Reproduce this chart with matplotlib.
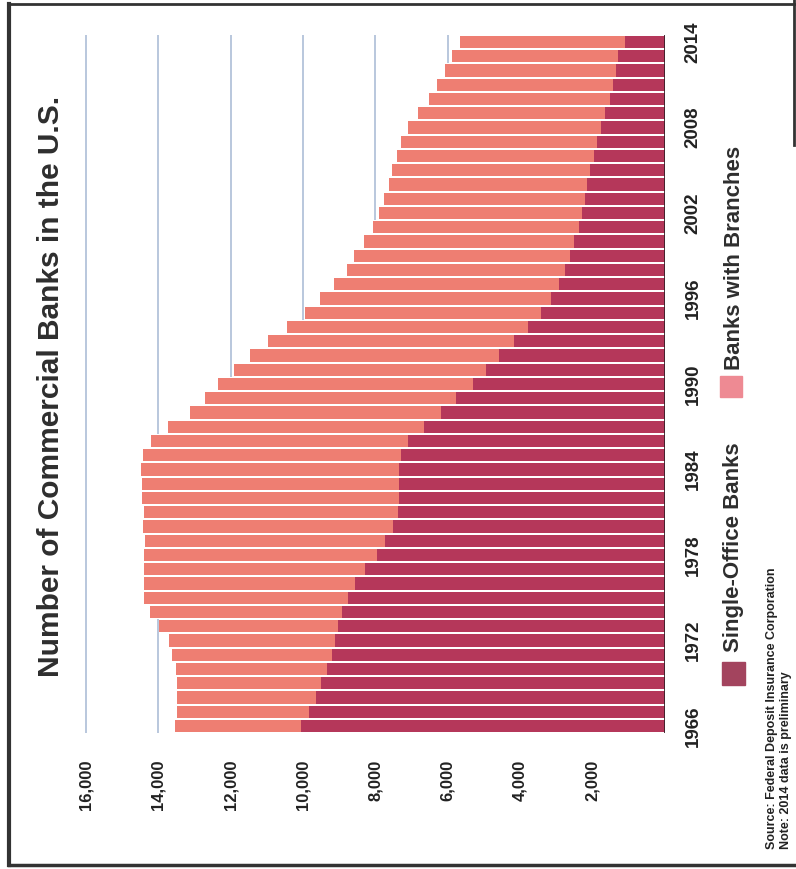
import numpy as np
import matplotlib
matplotlib.use("Agg")
import matplotlib.pyplot as plt
from matplotlib.patches import Rectangle
from matplotlib.lines import Line2D

plt.rcParams["font.family"] = ["Liberation Sans", "DejaVu Sans"]

# FDIC counts of commercial banks, 1966-2014
years = list(range(1966, 2015))
total_banks = [13540, 13490, 13480, 13470, 13510, 13610, 13710, 13970, 14220, 14380,
               14400, 14400, 14380, 14360, 14430, 14400, 14440, 14450, 14480, 14410,
               14200, 13720, 13120, 12700, 12350, 11900, 11460, 10960, 10450, 9940,
               9530, 9150, 8780, 8580, 8320, 8070, 7890, 7770, 7630, 7530,
               7400, 7280, 7090, 6820, 6530, 6300, 6090, 5880, 5650]
single_office = [10050, 9830, 9640, 9490, 9330, 9210, 9130, 9040, 8930, 8760,
                 8560, 8290, 7950, 7730, 7510, 7390, 7360, 7360, 7360, 7300,
                 7100, 6660, 6190, 5770, 5300, 4940, 4580, 4170, 3780, 3420,
                 3140, 2940, 2770, 2630, 2520, 2380, 2300, 2210, 2150, 2070,
                 1950, 1870, 1780, 1670, 1530, 1440, 1360, 1300, 1100]
with_branches = list(np.array(total_banks) - np.array(single_office))

value_ticks = [2000, 4000, 6000, 8000, 10000, 12000, 14000, 16000]
year_ticks = [1966, 1972, 1978, 1984, 1990, 1996, 2002, 2008, 2014]

dark_red = "#b5375a"
salmon = "#ee7e72"
W, H = 796, 869


def fx(px):
    return px / W


def fy(py):
    return 1 - py / H


fig = plt.figure(figsize=(W / 100, H / 100), dpi=100)
ax = fig.add_axes([fx(75), fy(733), fx(665) - fx(75), fy(35) - fy(733)])

# white backing keeps the gridlines out of the gaps between bars
ax.barh(years, total_banks, height=1.0, color="white", zorder=1.5)
ax.barh(years, single_office, height=0.86, color=dark_red, zorder=2)
ax.barh(years, with_branches, left=single_office, height=0.86, color=salmon, zorder=2)
for v in value_ticks:
    ax.axvline(v, color="#b3c3da", lw=1.3, zorder=1)
ax.axvline(0, color="#3a1f28", lw=2, zorder=3)

ax.set_xlim(16300, 0)
ax.set_ylim(1965.5, 2014.5)
for s in ax.spines.values():
    s.set_visible(False)

ax.set_xticks(value_ticks)
ax.set_xticklabels([f"{v:,}" for v in value_ticks], rotation=90,
                   fontsize=12, fontweight="bold", color="#222222")
ax.tick_params(axis="x", length=0, pad=19)

ax.yaxis.tick_right()
ax.set_yticks(year_ticks)
ax.set_yticklabels([str(y) for y in year_ticks], rotation=90, va="center",
                   fontsize=13.5, fontweight="bold", color="#222222")
ax.tick_params(axis="y", length=0, pad=14)

fig.text(fx(51), fy(386), "Number of Commercial Banks in the U.S.", rotation=90,
         ha="center", va="center", fontsize=21.5, fontweight="bold", color="#2e2e2e")

# legend, drawn sideways along the right edge
fig.add_artist(Rectangle((fx(722), fy(685)), fx(23), fy(662) - fy(685),
                         transform=fig.transFigure, color="#a3445e"))
fig.text(fx(734), fy(652), "Single-Office Banks", rotation=90, ha="center", va="bottom",
         fontsize=16, fontweight="bold", color="#2e2e2e")
fig.add_artist(Rectangle((fx(720), fy(397)), fx(22), fy(376) - fy(397),
                         transform=fig.transFigure, color="#ee8a93"))
fig.text(fx(734), fy(370), "Banks with Branches", rotation=90, ha="center", va="bottom",
         fontsize=16, fontweight="bold", color="#2e2e2e")

fig.text(fx(772), fy(849), "Source: Federal Deposit Insurance Corporation", rotation=90,
         ha="center", va="bottom", fontsize=9, fontweight="bold", color="#222222")
fig.text(fx(786), fy(849), "Note: 2014 data is preliminary", rotation=90,
         ha="center", va="bottom", fontsize=9, fontweight="bold", color="#222222")

# page border
border = dict(color="#333333", transform=fig.transFigure)
fig.add_artist(Line2D([fx(9), fx(9)], [fy(4), fy(865)], lw=3, **border))
fig.add_artist(Line2D([fx(9), fx(796)], [fy(4), fy(4)], lw=2, **border))
fig.add_artist(Line2D([fx(9), fx(796)], [fy(865), fy(865)], lw=2.5, **border))
fig.add_artist(Line2D([fx(794), fx(794)], [fy(0), fy(145)], lw=2, **border))

fig.savefig("out.png", dpi=100)
